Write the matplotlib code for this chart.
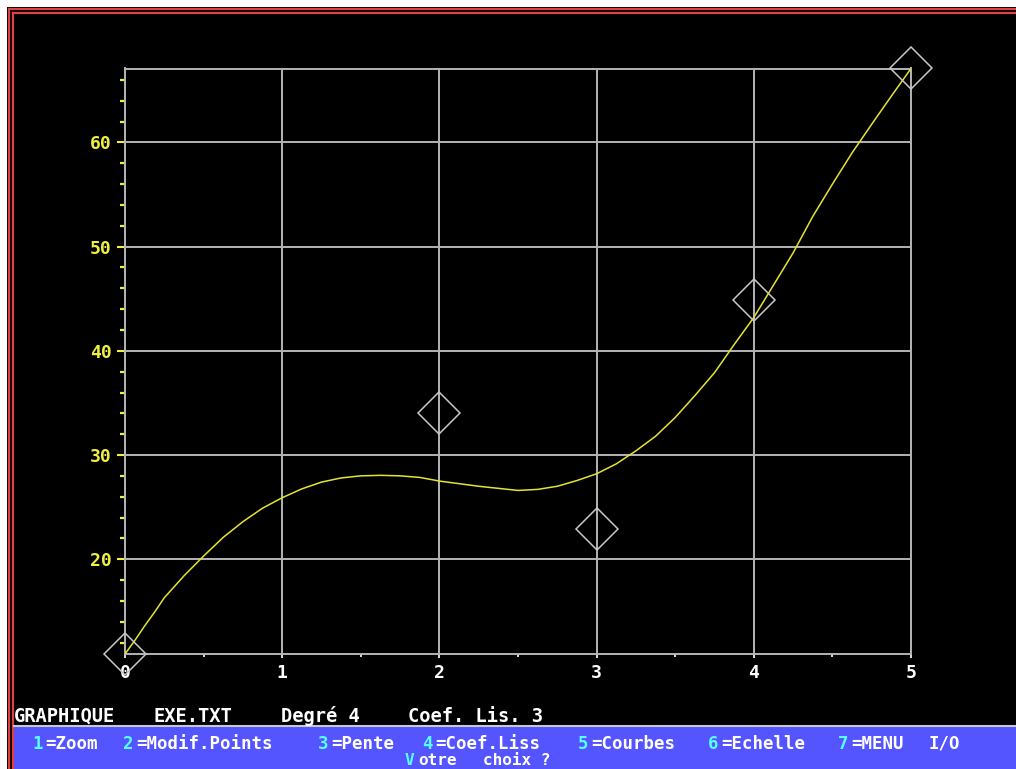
import matplotlib
matplotlib.use("Agg")
import matplotlib.pyplot as plt
from matplotlib.patches import Rectangle

# Points saisis (fichier EXE.TXT)
pts_x = [0, 2, 3, 4, 5]
pts_y = [10.9, 34.0, 22.9, 44.9, 67.1]

courbe_x = [0, 0.0625, 0.125, 0.1875, 0.25, 0.375, 0.5, 0.625, 0.75, 0.875,
            1.0, 1.125, 1.25, 1.375, 1.5, 1.625, 1.75, 1.875,
            2.0, 2.125, 2.25, 2.375, 2.5, 2.625, 2.75, 2.875,
            3.0, 3.125, 3.25, 3.375, 3.5, 3.625, 3.75, 3.875,
            4.0, 4.125, 4.25, 4.375, 4.5, 4.625, 4.75, 4.875, 5.0]
courbe_y = [10.9, 12.2, 13.6, 14.9, 16.3, 18.4, 20.3, 22.1, 23.6, 24.9,
            25.9, 26.75, 27.4, 27.8, 28.0, 28.05, 28.0, 27.85,
            27.5, 27.25, 27.0, 26.8, 26.6, 26.7, 27.0, 27.55,
            28.2, 29.15, 30.4, 31.8, 33.6, 35.7, 37.9, 40.6,
            43.2, 46.3, 49.4, 52.9, 56.0, 59.0, 61.75, 64.45, 67.1]

x_ticks = [0, 1, 2, 3, 4, 5]
y_ticks = [20, 30, 40, 50, 60]

ligne_statut = [("GRAPHIQUE", 0), ("EXE.TXT", 11), ("Degré 4", 21), ("Coef. Lis. 3", 31)]
menu = ["1=Zoom", "2=Modif.Points", "3=Pente", "4=Coef.Liss", "5=Courbes", "6=Echelle", "7=MENU I/O"]

W, H = 1016, 769
fig = plt.figure(figsize=(W / 100, H / 100), dpi=100, facecolor="white")

def fx(px):
    return px / W

def fy(py):
    return 1 - py / H

# fond noir + double cadre rouge
fig.patches.append(Rectangle((fx(7), 0), 1, fy(7), transform=fig.transFigure,
                             facecolor="black", edgecolor="none", zorder=0))
for off in [2, 6]:
    fig.add_artist(plt.Line2D([fx(7 + off), 1], [fy(7 + off), fy(7 + off)],
                              transform=fig.transFigure, color="#e04040", lw=1.6))
    fig.add_artist(plt.Line2D([fx(7 + off), fx(7 + off)], [0, fy(7 + off)],
                              transform=fig.transFigure, color="#e04040", lw=1.6))

ax = fig.add_axes([fx(125), fy(654), fx(911) - fx(125), fy(68.5) - fy(654)])
ax.set_zorder(2)
ax.set_facecolor("black")
gris = "#b4b4b4"
jaune = "#f0f040"

ax.plot(courbe_x, courbe_y, color="#e4e430", lw=1.1, zorder=3)
ax.plot(pts_x, pts_y, linestyle="none", marker="D", markersize=21,
        markerfacecolor="none", markeredgecolor="#c8c8c8", markeredgewidth=1.1,
        zorder=4, clip_on=False)

ax.set_xlim(0, 5)
ax.set_ylim(min(pts_y), max(pts_y))
ax.set_xticks(x_ticks)
ax.set_xticklabels([str(v) for v in x_ticks])
ax.set_yticks(y_ticks)
ax.set_yticklabels([str(v) for v in y_ticks])
ax.set_xticks([0.5, 1.5, 2.5, 3.5, 4.5], minor=True)
ax.set_yticks([12, 14, 16, 18, 22, 24, 26, 28, 32, 34, 36, 38, 42, 44, 46, 48,
               52, 54, 56, 58, 62, 64, 66], minor=True)
ax.grid(True, which="major", color=gris, lw=1.4)
for s in ax.spines.values():
    s.set_color(gris)
    s.set_linewidth(1.4)

police = {"family": "DejaVu Sans Mono", "weight": "bold", "size": 13}
ax.tick_params(axis="y", which="major", colors=jaune, length=5.5, width=1.5, pad=4)
ax.tick_params(axis="y", which="minor", colors=jaune, length=3.5, width=1.6)
ax.tick_params(axis="x", which="major", colors="white", length=3, width=1.2, pad=4)
ax.tick_params(axis="x", which="minor", colors="white", length=2.5, width=1.2)
for lab in ax.get_xticklabels() + ax.get_yticklabels():
    lab.set_fontproperties(police)

# ligne d'état
pas = 12.7
for txt, col in ligne_statut:
    fig.text(fx(14 + col * pas), fy(722), txt, color="white", ha="left", va="baseline",
             fontfamily="DejaVu Sans Mono", fontweight="bold", fontsize=13.5)

# barre de menu
fig.patches.append(Rectangle((fx(14), 0), 1, fy(726) - 0, transform=fig.transFigure,
                             facecolor="#5555ff", edgecolor="none", zorder=1))
fig.add_artist(plt.Line2D([fx(14), 1], [fy(726), fy(726)], transform=fig.transFigure,
                          color="#c8c8c8", lw=1.5))
taille = 12.5
pas = 13.0
pos = 0
for item in menu:
    x0 = 32 + pos * pas
    fig.text(fx(x0), fy(749), item[0], color="#55ffff", ha="left", va="baseline",
             fontfamily="DejaVu Sans Mono", fontweight="bold", fontsize=taille, zorder=3)
    reste = item[1:].split(" ")
    c = 1
    for mot in reste:
        fig.text(fx(x0 + c * pas), fy(749), mot, color="white", ha="left", va="baseline",
                 fontfamily="DejaVu Sans Mono", fontweight="bold", fontsize=taille, zorder=3)
        c += len(mot) + 1
    pos += len(item) + 1

fig.text(fx(405), fy(765), "V", color="#55ffff", ha="left", va="baseline",
         fontfamily="DejaVu Sans Mono", fontweight="bold", fontsize=11.5, zorder=3)
fig.text(fx(405 + pas), fy(765), "otre", color="white", ha="left", va="baseline",
         fontfamily="DejaVu Sans Mono", fontweight="bold", fontsize=11.5, zorder=3)
fig.text(fx(405 + 6 * pas), fy(765), "choix ?", color="white", ha="left", va="baseline",
         fontfamily="DejaVu Sans Mono", fontweight="bold", fontsize=11.5, zorder=3)

fig.savefig("out.png", dpi=100, facecolor=fig.get_facecolor())
